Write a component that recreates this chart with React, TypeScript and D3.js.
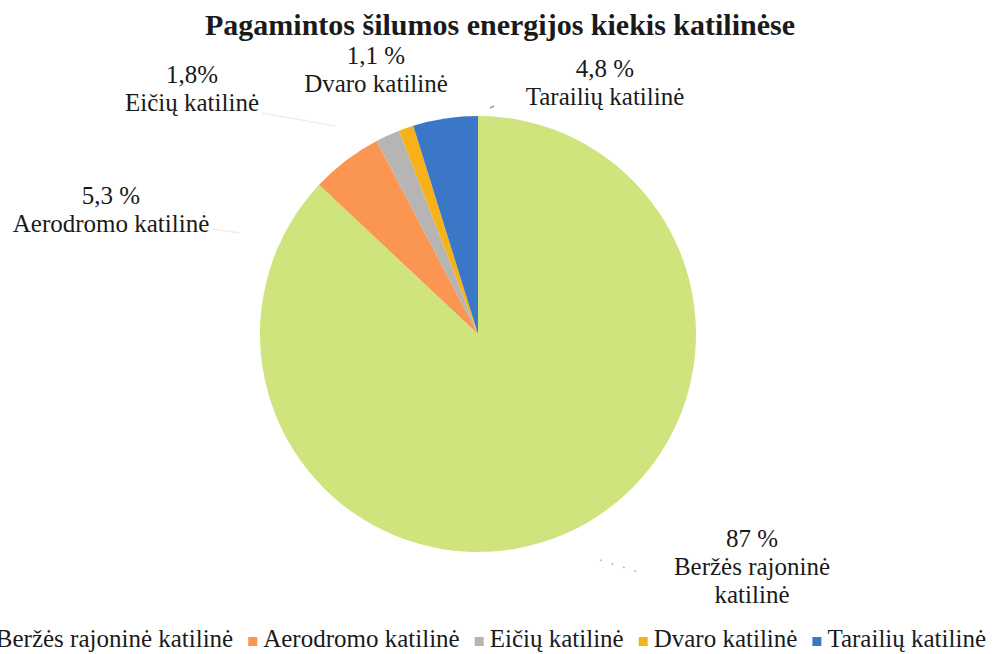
import React, { useEffect, useRef } from 'react'
import * as d3 from 'd3'

const categories = ['Beržės rajoninė katilinė', 'Aerodromo katilinė', 'Eičių katilinė', 'Dvaro katilinė', 'Tarailių katilinė']
const shares = [87, 5.3, 1.8, 1.1, 4.8]
const percentLabels = ['87 %', '5,3 %', '1,8%', '1,1 %', '4,8 %']
const labelLines = [['Beržės rajoninė', 'katilinė'], ['Aerodromo katilinė'], ['Eičių katilinė'], ['Dvaro katilinė'], ['Tarailių katilinė']]
const colors = ['#cfe47c', '#fb9552', '#b7b5b3', '#f8b219', '#3a77c6']

const W = 995
const H = 654

const App = () => {
  const ref = useRef<SVGSVGElement>(null)

  useEffect(() => {
    document.body.style.margin = '0'
    const svg = d3.select(ref.current)
    svg.selectAll('*').remove()

    const cx = 478, cy = 334, r = 218
    const font = '"Liberation Serif", "Times New Roman", serif'

    svg.append('text')
      .attr('x', 500).attr('y', 35)
      .attr('text-anchor', 'middle')
      .style('font-family', font)
      .style('font-weight', 'bold')
      .style('font-size', '30px')
      .attr('fill', '#1a1a1a')
      .text('Pagamintos šilumos energijos kiekis katilinėse')

    const data = categories.map((c, i) => ({ name: c, value: shares[i], i }))
    const pie = d3.pie<any>().sort(null).value(d => d.value)
    const arc = d3.arc<any>().innerRadius(0).outerRadius(r)
    const arcs = pie(data)

    const g = svg.append('g').attr('transform', `translate(${cx},${cy})`)
    g.selectAll('path')
      .data(arcs)
      .enter()
      .append('path')
      .attr('d', arc)
      .attr('fill', d => colors[d.data.i])

    // where each label block sits (outside the pie)
    const labelPos = [[752, 547], [111, 204], [192, 83], [376, 64], [605, 77]]
    const leaders = [[[600, 560], [645, 574]], [[212, 229], [240, 233]], [[262, 113], [335, 126]], null, [[490, 108], [494, 106]]]

    leaders.forEach((l, i) => {
      if (!l) return
      svg.append('line')
        .attr('x1', l[0][0]).attr('y1', l[0][1])
        .attr('x2', l[1][0]).attr('y2', l[1][1])
        .attr('stroke', i === 4 ? '#999' : i === 0 ? '#bbb' : '#efefef')
        .attr('stroke-width', 1.5)
        .attr('stroke-dasharray', i === 0 ? '2,10' : null)
    })

    arcs.forEach(a => {
      const i = a.data.i
      const t = svg.append('text')
        .attr('text-anchor', 'middle')
        .style('font-family', font)
        .style('font-size', '25px')
        .attr('fill', '#1a1a1a')
      const lines = [percentLabels[i]].concat(labelLines[i])
      lines.forEach((s, k) => {
        t.append('tspan')
          .attr('x', labelPos[i][0])
          .attr('y', labelPos[i][1] + k * 28)
          .text(s)
      })
    })

    // legend, laid out from the right edge leftwards
    const leg = svg.append('g')
    const items = data.map(d => {
      const it = leg.append('g')
      it.append('rect').attr('width', 9).attr('height', 9).attr('fill', colors[d.i])
      const tx = it.append('text')
        .attr('x', 15).attr('y', 10)
        .style('font-family', font)
        .style('font-size', '25px')
        .attr('fill', '#1a1a1a')
        .text(d.name)
      const w = (tx.node() as SVGTextElement).getComputedTextLength()
      return { it, w }
    })
    let right = 986
    for (let k = items.length - 1; k >= 0; k--) {
      const x = right - items[k].w - 15
      items[k].it.attr('transform', `translate(${x},637)`)
      right = x - 15
    }
  }, [])

  return (
    <div>
      <svg ref={ref} width={W} height={H} style={{ display: 'block', background: '#fff' }} />
    </div>
  )
}

export default App
